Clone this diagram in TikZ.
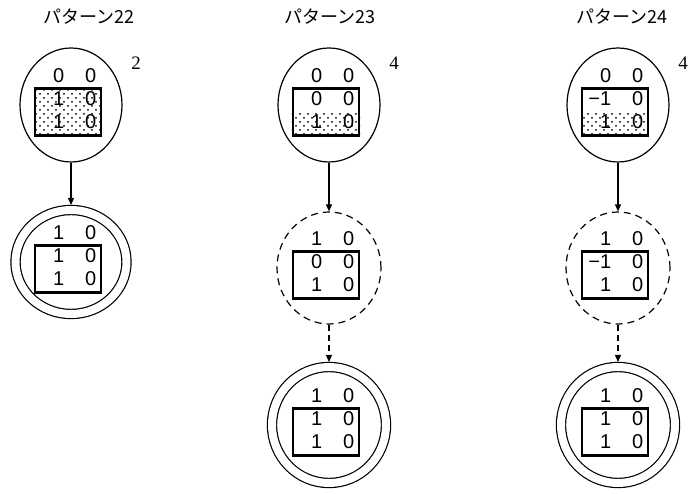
\documentclass[tikz,border=0pt]{standalone}
\usepackage{fontspec}
\setmainfont{Liberation Sans}
\newfontfamily\jpfont{Noto Sans CJK JP}
\newfontfamily\numfont{Liberation Serif}
\usetikzlibrary{shapes.geometric,arrows.meta,patterns.meta,calc}

% two right-aligned columns of one board row
\newcommand{\pair}[2]{\makebox[14pt][r]{#1}\makebox[32pt][r]{#2}}

\begin{document}
\begin{tikzpicture}[x=1pt,y=-1pt,
  state/.style={ellipse, draw, line width=1.2pt, inner sep=0pt, minimum width=102pt, minimum height=114pt},
  trial/.style={state, dash pattern=on 7pt off 5pt, minimum width=104pt, minimum height=112pt},
  goal/.style={state, double, double distance=8pt, outer sep=5pt},
  board/.style={draw, line width=2.2pt, inner sep=0pt, minimum width=66pt, minimum height=47pt},
  row/.style={anchor=base west, inner sep=0pt, font=\fontsize{20}{20}\selectfont},
  title/.style={font=\jpfont\fontsize{18}{18}\selectfont},
  count/.style={font=\numfont\fontsize{19}{19}\selectfont},
  move/.style={-{Triangle[length=7pt,width=6pt]}, line width=1.2pt},
  dotfill/.style={pattern={Dots[distance=8pt,radius=1pt]},
    preaction={pattern={Dots[distance=8pt,radius=1pt,xshift=4pt,yshift=4pt]}}},
  ]
\useasboundingbox (0,0) rectangle (689,494);

% column headings and counts
\node[title] (h1) at (89,17) {パターン22};
\node[title] (h2) at (330,17) {パターン23};
\node[title] (h3) at (622,17) {パターン24};
\node[count] (n1) at (136,63) {2};
\node[count] (n2) at (394,63) {4};
\node[count] (n3) at (683,63) {4};

% starting states
\node[state] (s1) at (71,105) {};
\node[state] (s2) at (329,105) {};
\node[state] (s3) at (618,105) {};
% intermediate states
\node[trial] (t2) at (329,268) {};
\node[trial] (t3) at (618,268) {};
% final states
\node[goal, minimum width=111pt, minimum height=104pt] (g1) at (71,262) {};
\node[goal, minimum width=114pt, minimum height=116pt] (g2) at (329,425) {};
\node[goal, minimum width=114pt, minimum height=116pt] (g3) at (618,425) {};

% boards inside the states
\foreach \s in {s1,s2,s3,t2,t3,g1,g2,g3}
  \node[board] (b\s) at ($(\s)+(-3,7)$) {};

\foreach \a/\b [count=\i] in {0/0,1/0,1/0} \node[row] (s1r\i) at ($(s1)+(-21,-45+23*\i)$) {\pair{\a}{\b}};
\foreach \a/\b [count=\i] in {0/0,0/0,1/0} \node[row] (s2r\i) at ($(s2)+(-21,-45+23*\i)$) {\pair{\a}{\b}};
\foreach \a/\b [count=\i] in {0/0,−1/0,1/0} \node[row] (s3r\i) at ($(s3)+(-21,-45+23*\i)$) {\pair{\a}{\b}};
\foreach \a/\b [count=\i] in {1/0,0/0,1/0} \node[row] (t2r\i) at ($(t2)+(-21,-45+23*\i)$) {\pair{\a}{\b}};
\foreach \a/\b [count=\i] in {1/0,−1/0,1/0} \node[row] (t3r\i) at ($(t3)+(-21,-45+23*\i)$) {\pair{\a}{\b}};
\foreach \g in {g1,g2,g3}
  \foreach \a/\b [count=\i] in {1/0,1/0,1/0} \node[row] (\g r\i) at ($(\g)+(-21,-45+23*\i)$) {\pair{\a}{\b}};

% dotted cells
\fill[dotfill] (bs1.north west) rectangle (bs1.south east);
\fill[dotfill] ($(bs2.south west)+(0,-24)$) rectangle (bs2.south east);
\fill[dotfill] ($(bs3.south west)+(0,-24)$) rectangle (bs3.south east);

% moves
\draw[move] (s1) -- (g1);
\draw[move] (s2) -- (t2);
\draw[move] (s3) -- (t3);
\draw[move, dash pattern=on 6pt off 4pt] (t2) -- (g2);
\draw[move, dash pattern=on 6pt off 4pt] (t3) -- (g3);
\end{tikzpicture}
\end{document}
